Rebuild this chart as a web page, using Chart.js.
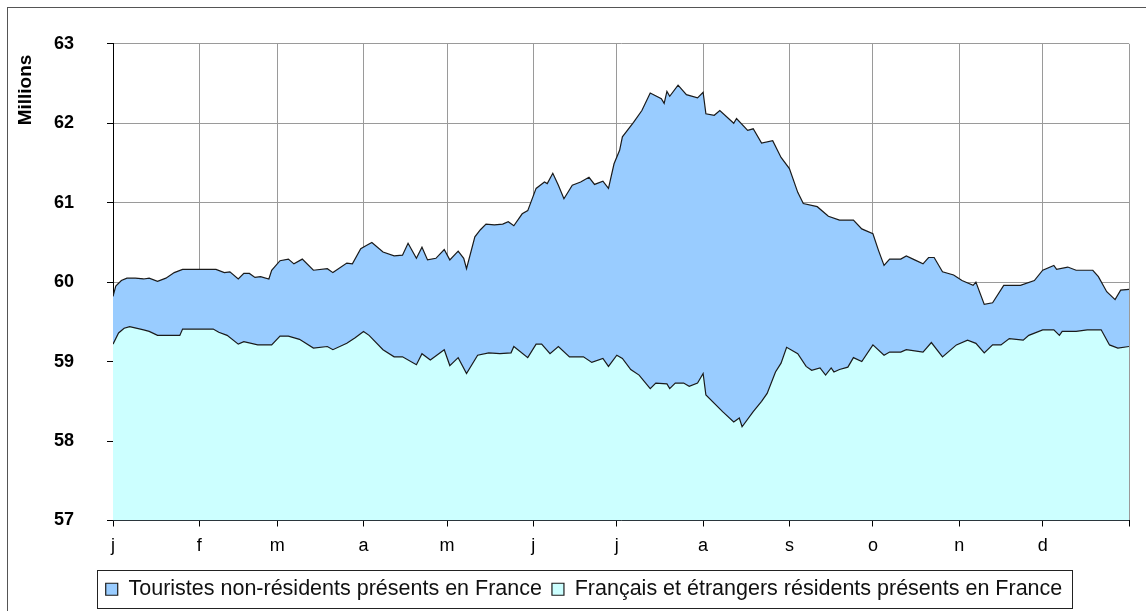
<!DOCTYPE html>
<html lang="fr">
<head>
    <meta charset="UTF-8">
    <title>Présence en France</title>
    <script src="https://cdn.jsdelivr.net/npm/chart.js"></script>
    <style>
        body {
            margin: 0;
            background-color: #ffffff;
        }
        #chart-container {
            position: relative;
            width: 1146px;
            height: 611px;
        }
    </style>
</head>
<body>
    <div id="chart-container">
        <canvas id="presenceChart"></canvas>
    </div>

    <script>
        // month ticks (day of year) and their labels
        const monthStartDays = [0, 31, 59, 90, 120, 151, 181, 212, 243, 273, 304, 334, 365];
        const monthLabels = ['j', 'f', 'm', 'a', 'm', 'j', 'j', 'a', 's', 'o', 'n', 'd', ''];

        // upper line: total present (residents + non-resident tourists), millions
        const totalDays = [0, 1, 3, 5, 8, 11, 13, 16, 19, 22, 25, 31, 37, 40, 42, 45, 47, 49, 51, 53,
            56, 57, 60, 63, 65, 68, 72, 77, 79, 84, 86, 89, 91, 93, 97, 101, 104, 106, 109, 111,
            113, 116, 119, 121, 124, 126, 127, 130, 132, 134, 137, 140, 142, 144, 147, 149, 152, 155, 156, 158,
            160, 162, 165, 168, 171, 173, 176, 178, 180, 182, 183, 187, 190, 193, 197, 198, 199, 200, 203, 206,
            210, 212, 213, 216, 218, 223, 224, 228, 230, 233, 237, 240, 243, 246, 248, 253, 257, 261, 266, 269,
            273, 275, 277, 279, 283, 285, 288, 291, 293, 295, 298, 302, 305, 309, 310, 313, 316, 320, 326, 331,
            334, 338, 339, 343, 346, 352, 354, 357, 360, 362, 365];
        const totalValues = [59.82, 59.95, 60.02, 60.05, 60.05, 60.04, 60.05, 60.01, 60.05, 60.12, 60.16, 60.16, 60.16, 60.12, 60.13, 60.04, 60.11, 60.11, 60.06, 60.07,
            60.04, 60.15, 60.27, 60.29, 60.23, 60.29, 60.15, 60.17, 60.12, 60.24, 60.23, 60.42, 60.46, 60.50, 60.38, 60.33, 60.34, 60.49, 60.30, 60.44,
            60.28, 60.30, 60.41, 60.28, 60.39, 60.30, 60.17, 60.57, 60.66, 60.73, 60.72, 60.73, 60.76, 60.71, 60.86, 60.90, 61.18, 61.26, 61.24, 61.37,
            61.22, 61.05, 61.22, 61.26, 61.32, 61.23, 61.27, 61.18, 61.49, 61.66, 61.83, 62.01, 62.16, 62.38, 62.31, 62.25, 62.40, 62.34, 62.48, 62.36,
            62.32, 62.39, 62.12, 62.10, 62.16, 62.00, 62.06, 61.91, 61.93, 61.75, 61.78, 61.57, 61.43, 61.13, 60.99, 60.95, 60.83, 60.78, 60.78, 60.67,
            60.61, 60.40, 60.21, 60.29, 60.29, 60.33, 60.28, 60.23, 60.31, 60.31, 60.13, 60.09, 60.02, 59.96, 60.00, 59.72, 59.74, 59.96, 59.96, 60.02,
            60.15, 60.21, 60.16, 60.19, 60.15, 60.15, 60.07, 59.88, 59.78, 59.90, 59.91];

        // lower line: French and foreign residents present in France, millions
        const residentDays = [0, 2, 4, 6, 11, 13, 16, 20, 24, 25, 36, 38, 41, 45, 47, 52, 57, 60, 63, 67,
            72, 77, 79, 84, 87, 90, 92, 97, 101, 104, 109, 111, 114, 119, 121, 124, 127, 131, 135, 139,
            143, 144, 149, 152, 154, 157, 160, 164, 169, 172, 176, 178, 181, 183, 186, 189, 193, 195, 199, 200,
            202, 205, 207, 210, 212, 213, 219, 223, 225, 226, 230, 233, 235, 238, 240, 242, 246, 249, 251, 254,
            256, 258, 259, 261, 264, 266, 269, 273, 277, 279, 283, 285, 291, 294, 298, 303, 307, 310, 313, 316,
            319, 322, 327, 329, 334, 338, 340, 341, 346, 350, 355, 358, 361, 365];
        const residentValues = [59.22, 59.36, 59.42, 59.44, 59.40, 59.38, 59.33, 59.33, 59.33, 59.41, 59.41, 59.37, 59.33, 59.22, 59.25, 59.21, 59.21, 59.32, 59.32, 59.28,
            59.17, 59.19, 59.15, 59.23, 59.30, 59.38, 59.33, 59.15, 59.06, 59.06, 58.96, 59.10, 59.02, 59.15, 58.95, 59.05, 58.85, 59.08, 59.11, 59.10,
            59.11, 59.19, 59.05, 59.22, 59.22, 59.10, 59.19, 59.06, 59.06, 58.99, 59.04, 58.94, 59.08, 59.04, 58.90, 58.83, 58.66, 58.73, 58.72, 58.66,
            58.73, 58.73, 58.69, 58.73, 58.85, 58.58, 58.37, 58.24, 58.29, 58.18, 58.37, 58.50, 58.60, 58.87, 58.98, 59.18, 59.10, 58.94, 58.89, 58.92,
            58.83, 58.92, 58.87, 58.90, 58.93, 59.05, 59.00, 59.21, 59.08, 59.12, 59.12, 59.15, 59.12, 59.24, 59.06, 59.21, 59.27, 59.23, 59.11, 59.21,
            59.21, 59.29, 59.27, 59.33, 59.40, 59.40, 59.33, 59.38, 59.38, 59.40, 59.40, 59.21, 59.17, 59.19];

        const yTicks = [57, 58, 59, 60, 61, 62, 63];

        const FONT = '"Liberation Sans", Arial, sans-serif';

        const toPoints = (days, values) => days.map((d, i) => ({ x: d, y: values[i] }));

        // frame around the whole chart, "Millions" title and box around the legend
        const decorations = {
            id: 'decorations',
            beforeDraw(chart) {
                const ctx = chart.ctx;
                ctx.save();
                ctx.fillStyle = '#ffffff';
                ctx.fillRect(0, 0, chart.width, chart.height);
                ctx.strokeStyle = '#555555';
                ctx.lineWidth = 1;
                ctx.strokeRect(7.5, 7.5, chart.width + 20, chart.height + 20);
                ctx.restore();
            },
            afterDraw(chart) {
                const ctx = chart.ctx;
                ctx.save();
                ctx.translate(26, 90);
                ctx.rotate(-Math.PI / 2);
                ctx.font = 'bold 19px ' + FONT;
                ctx.fillStyle = '#000';
                ctx.textAlign = 'center';
                ctx.textBaseline = 'middle';
                ctx.fillText('Millions', 0, 0);
                ctx.restore();

                const boxes = chart.legend.legendHitBoxes;
                if (boxes && boxes.length) {
                    const first = boxes[0];
                    const last = boxes[boxes.length - 1];
                    const left = Math.round(first.left - 9) + 0.5;
                    const right = Math.round(last.left + last.width + 10) + 0.5;
                    const top = Math.round(first.top - 9) + 0.5;
                    const bottom = Math.round(first.top + first.height + 8) + 0.5;
                    ctx.save();
                    ctx.strokeStyle = '#222';
                    ctx.lineWidth = 1;
                    ctx.strokeRect(left, top, right - left, bottom - top);
                    ctx.restore();
                }
            }
        };

        const ctx = document.getElementById('presenceChart').getContext('2d');
        new Chart(ctx, {
            type: 'line',
            data: {
                datasets: [
                    {
                        label: 'Touristes non-résidents présents en France',
                        data: toPoints(totalDays, totalValues),
                        borderColor: '#1a1a1a',
                        backgroundColor: '#99ccff',
                        borderWidth: 1.2,
                        pointRadius: 0,
                        tension: 0,
                        fill: 'start',
                        order: 1
                    },
                    {
                        label: 'Français et étrangers résidents présents en France',
                        data: toPoints(residentDays, residentValues),
                        borderColor: '#1a1a1a',
                        backgroundColor: '#ccffff',
                        borderWidth: 1.2,
                        pointRadius: 0,
                        tension: 0,
                        fill: 'start',
                        order: 0
                    }
                ]
            },
            options: {
                responsive: true,
                maintainAspectRatio: false,
                animation: false,
                layout: {
                    padding: { left: 39, right: 17, top: 43, bottom: 1 }
                },
                plugins: {
                    tooltip: { enabled: false },
                    legend: {
                        position: 'bottom',
                        labels: {
                            boxWidth: 12,
                            boxHeight: 12,
                            padding: 10,
                            color: '#111',
                            font: { family: FONT, size: 21.5 },
                            sort: (a, b) => a.datasetIndex - b.datasetIndex
                        }
                    }
                },
                scales: {
                    x: {
                        type: 'linear',
                        min: 0,
                        max: 365,
                        afterBuildTicks: (scale) => {
                            scale.ticks = monthStartDays.map(v => ({ value: v }));
                        },
                        afterFit: (scale) => { scale.height = 48; },
                        ticks: {
                            autoSkip: false,
                            maxRotation: 0,
                            padding: 9,
                            color: '#000',
                            font: { family: FONT, size: 18 },
                            callback: (value, index) => monthLabels[index]
                        },
                        grid: {
                            color: '#9a9a9a',
                            tickColor: '#000',
                            tickLength: 6
                        },
                        border: { color: '#000', width: 1 }
                    },
                    y: {
                        min: 57,
                        max: 63,
                        afterBuildTicks: (scale) => {
                            scale.ticks = yTicks.map(v => ({ value: v }));
                        },
                        afterFit: (scale) => { scale.width = 74; },
                        ticks: {
                            padding: 33,
                            color: '#000',
                            font: { family: FONT, size: 18, weight: 'bold' }
                        },
                        grid: {
                            color: '#9a9a9a',
                            tickColor: '#000',
                            tickLength: 6
                        },
                        border: { color: '#000', width: 1 }
                    }
                }
            },
            plugins: [decorations]
        });
    </script>
</body>
</html>
